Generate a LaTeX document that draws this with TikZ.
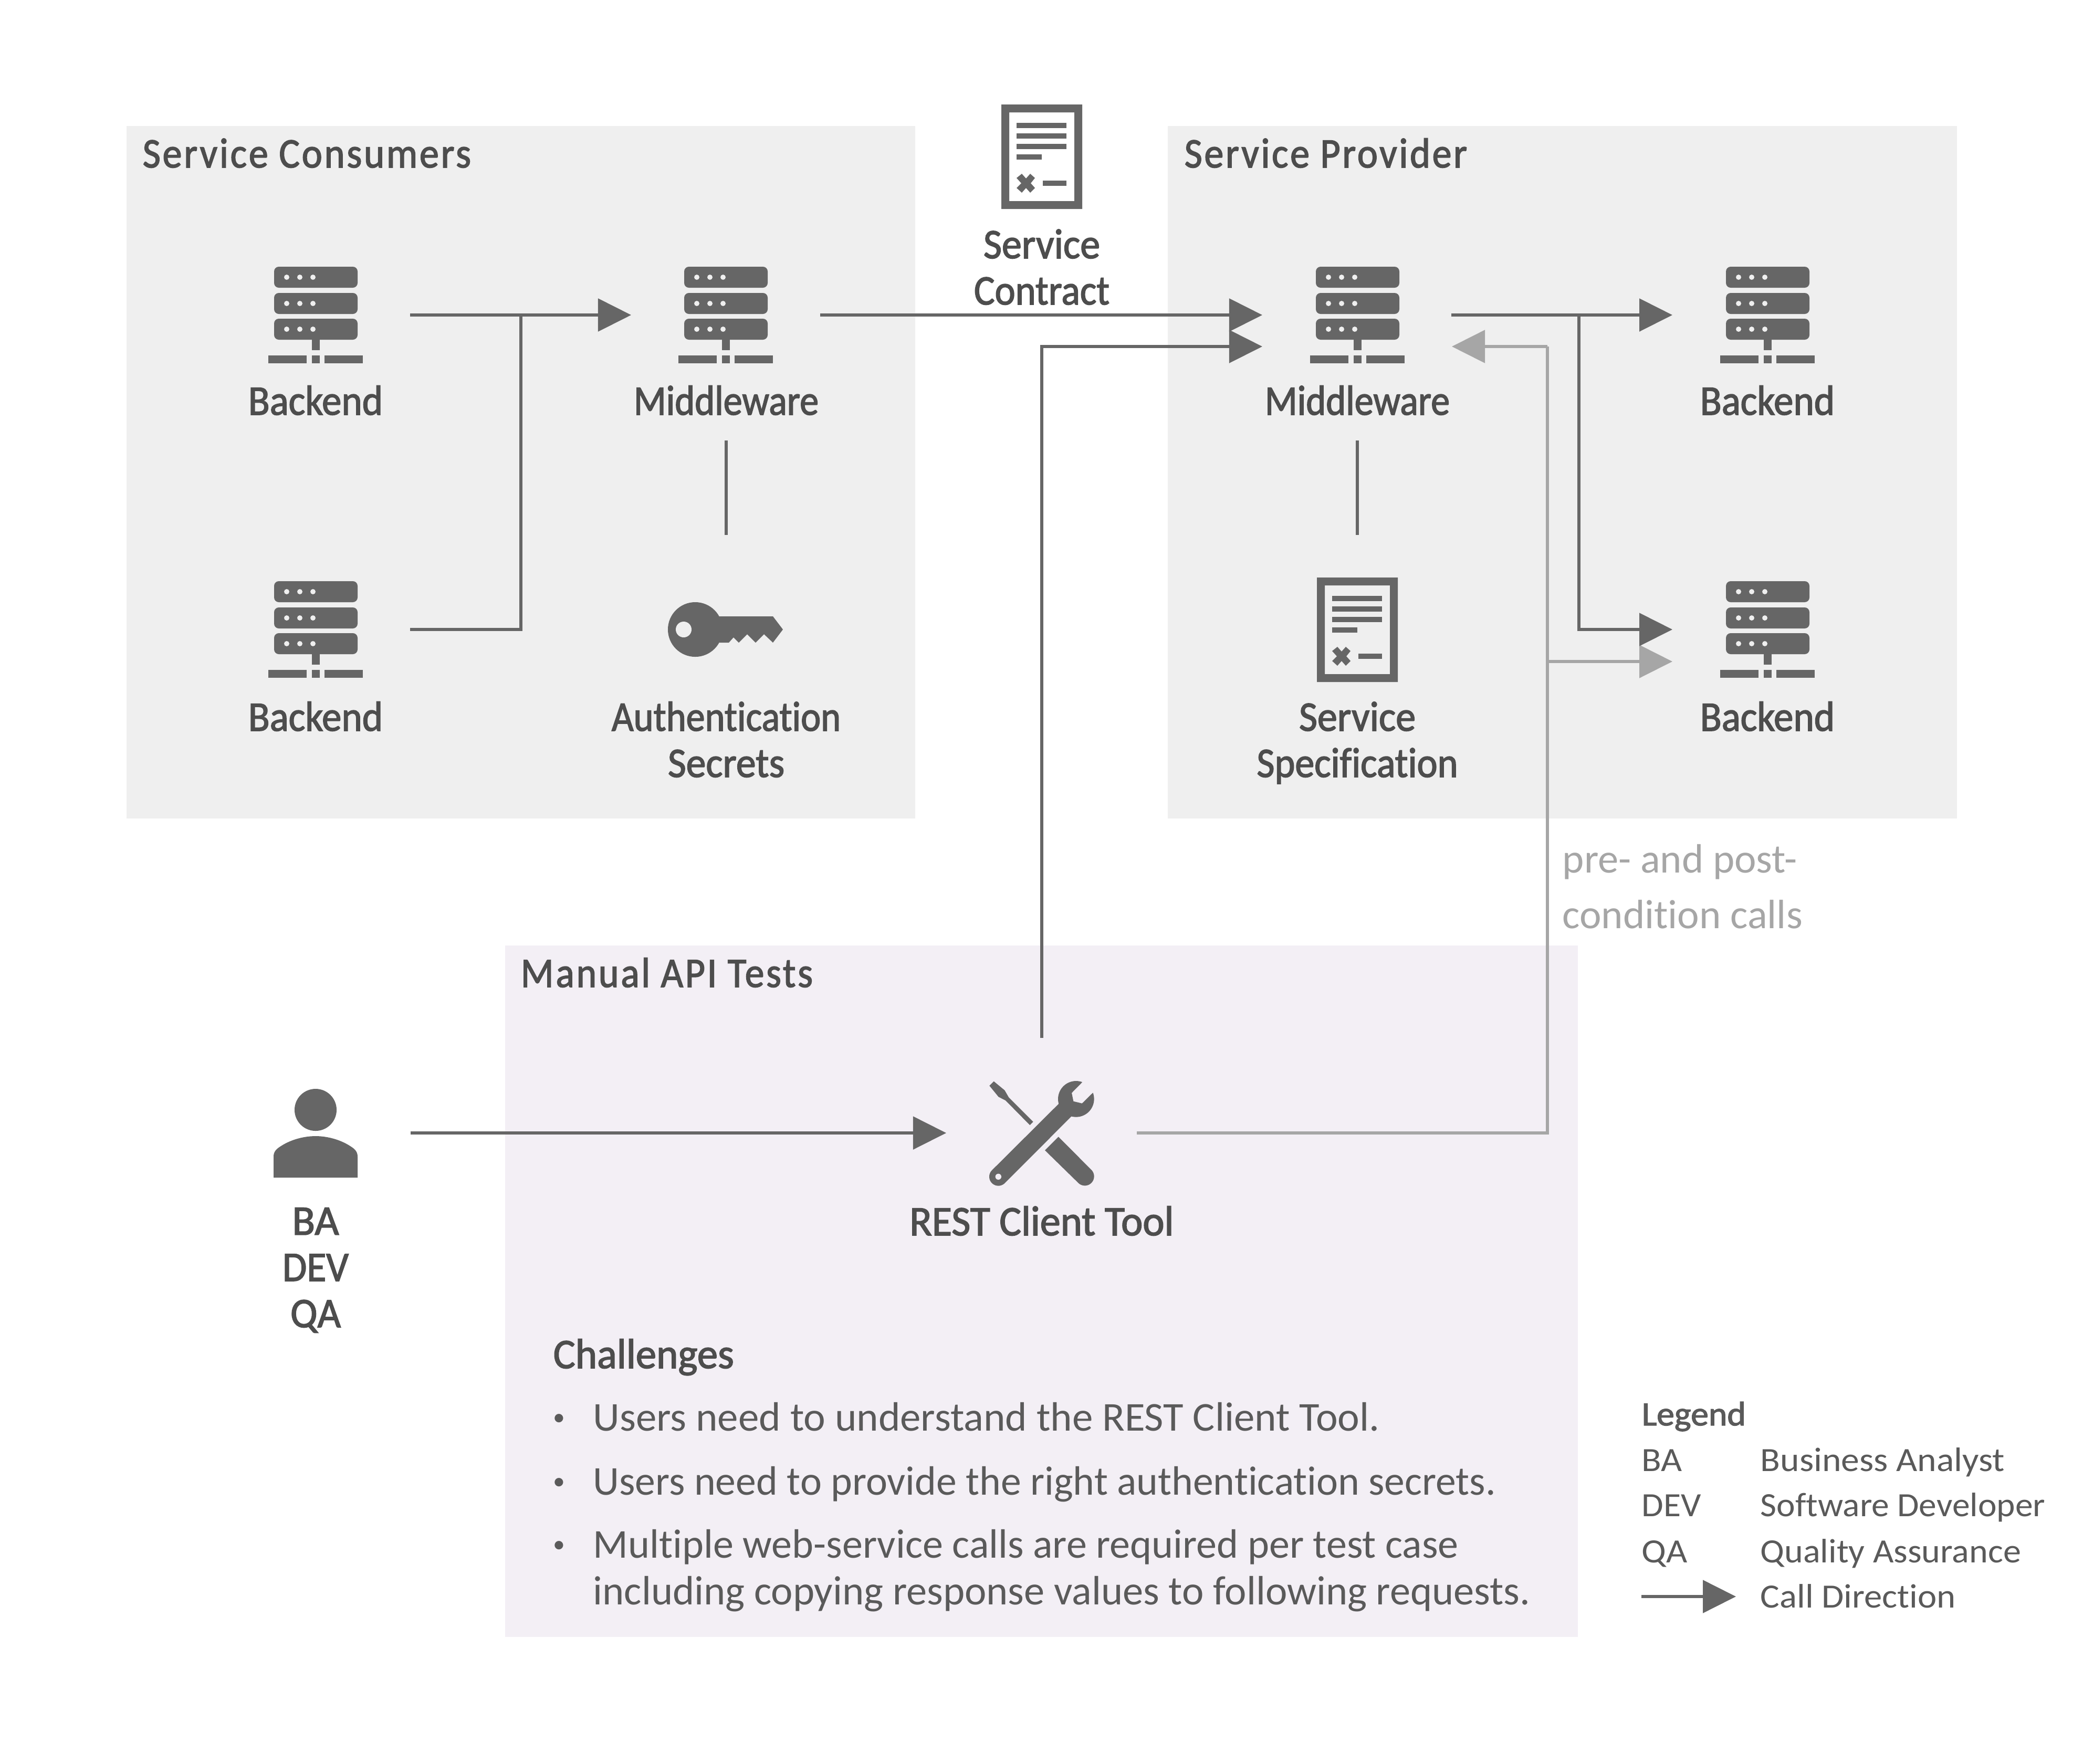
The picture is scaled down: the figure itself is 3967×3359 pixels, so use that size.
\documentclass[tikz,border=0pt]{standalone}
\usepackage{fontspec}
\usepackage{graphicx}
\usetikzlibrary{arrows.meta}
\setmainfont[Ligatures=CommonOff]{Carlito}
\newfontfamily\medf[FakeBold=2,Ligatures=CommonOff]{Carlito}
\definecolor{boxgray}{HTML}{EFEFEF}
\definecolor{boxlav}{HTML}{F3EFF5}
\definecolor{icon}{HTML}{666666}
\definecolor{txt}{HTML}{4D4D4D}
\definecolor{bodytxt}{HTML}{5A5A5A}
\definecolor{lightline}{HTML}{A6A6A6}
\newsavebox\fitbox
\newcommand\fitw[2]{\sbox\fitbox{#2}\pgfmathsetmacro\fitr{(#1*0.284528)/\the\wd\fitbox}\scalebox{\fitr}[1]{\usebox\fitbox}}
\newcommand\lblfont{\medf\fontsize{22.8}{25.04}\selectfont}
\newcommand\bodyfont{\fontsize{22.2}{25.3}\selectfont}
\newcommand\legfont{\fontsize{18.4}{20}\selectfont}
\newcommand\legbold{\medf\fontsize{18.4}{20}\selectfont}
\newcommand\bulfont{\fontsize{13}{15}\selectfont}
\newcommand\spc{\addfontfeature{LetterSpace=5}}
\tikzset{
  x=0.01cm,y=-0.01cm,
  lab/.style={font=\lblfont,text=txt,inner sep=0pt,anchor=base,align=center},
  head/.style={font=\lblfont,text=txt,inner sep=0pt,anchor=base west},
  bodytext/.style={font=\bodyfont,text=bodytxt,inner sep=0pt,anchor=base west,align=left},
  legtext/.style={font=\legfont,text=bodytxt,inner sep=0pt,anchor=base west},
  conn/.style={draw=icon,line width=0.055cm},
  connG/.style={draw=lightline,line width=0.055cm},
  tipd/.style={-{Triangle[length=6.3mm,width=6.2mm,fill=icon]}},
  tipg/.style={-{Triangle[length=6.3mm,width=6.2mm,fill=lightline]}},
  serverpic/.pic={
    \foreach \yy in {-92,-42,7}{
      \fill[icon,even odd rule,rounded corners=0.09cm] (-79,\yy) rectangle (80,\yy+40);
      \foreach \xx in {-55,-30,-5}{\fill[boxgray] (\xx,\yy+20) circle[radius=0.05cm];}
    }
    \fill[icon] (-7,47) rectangle (8,67);
    \fill[icon] (-90,77) rectangle (-17,92);
    \fill[icon] (-7,77) rectangle (8,92);
    \fill[icon] (17,77) rectangle (90,92);
  },
  docpic/.pic={
    \fill[icon,even odd rule] (-77,-99) rectangle (77,100) (-62,-84) rectangle (62,85);
    \fill[icon] (-48,-64) rectangle (47,-54);
    \fill[icon] (-48,-44) rectangle (47,-34);
    \fill[icon] (-48,-24) rectangle (47,-14);
    \fill[icon] (-48,-4) rectangle (0,6);
    \fill[icon] (2,46) rectangle (47,56);
    \fill[icon] (-48,41) -- (-38,33) -- (-30,42) -- (-22,33) -- (-13,41) -- (-21,51) -- (-13,60) -- (-22,69) -- (-30,60) -- (-38,69) -- (-48,60) -- (-39,51) -- cycle;
  }
}
\begin{document}
\begin{tikzpicture}
\useasboundingbox (0,0) rectangle (3967,3359);
\fill[white] (0,0) rectangle (3967,3359);
% panels
\fill[boxgray] (241,240) rectangle (1743,1559);
\fill[boxgray] (2224,240) rectangle (3727,1559);
\fill[boxlav] (962,1801) rectangle (3005,3118);
% headers
\node[head] (hcons) at (271,319) {\fitw{625}{\spc Service Consumers}};
\node[head] (hprov) at (2255,319) {\fitw{538}{\spc Service Provider}};
\node[head] (hman) at (991,1880) {\fitw{556}{\spc Manual API Tests}};
% icons
\pic (srvA) at (601,600) {serverpic};
\pic (srvB) at (601,1199) {serverpic};
\pic (srvC) at (1382,600) {serverpic};
\pic (srvD) at (2585,600) {serverpic};
\pic (srvE) at (3366,600) {serverpic};
\pic (srvF) at (3366,1199) {serverpic};
\pic (docA) at (1984,298) {docpic};
\pic (docB) at (2585,1199) {docpic};
% key
\fill[icon] (1370,1174) -- (1472,1174) -- (1491,1199) -- (1472,1224) -- (1455,1208) -- (1439,1224) -- (1423,1208) -- (1407,1224) -- (1397,1214) -- (1388,1224) -- (1370,1224) -- cycle;
\fill[icon] (1324,1199) circle[radius=0.52cm];
\fill[boxgray] (1302,1199) circle[radius=0.15cm];
% person
\fill[icon] (601,2114) circle[radius=0.40cm];
\fill[icon] (521,2243) -- (521,2203) .. controls (521,2193) and (527,2188) .. (535,2183) .. controls (555,2170) and (580,2164) .. (601,2164) .. controls (622,2164) and (647,2170) .. (667,2183) .. controls (675,2188) and (681,2193) .. (681,2203) -- (681,2243) -- cycle;
% tools
\fill[icon,even odd rule] (2060.7,2061.7) -- (2041,2081.7) -- (2044.3,2097.7) -- (2060.7,2101.7) -- (2081,2081.7)
  -- plot[domain=-20:105,samples=30,variable=\t] ({2049.3+34.3*cos(\t)},{2093.3+34.3*sin(\t)})
  -- plot[domain=45:225,samples=30,variable=\t] ({1901.3+17.3*cos(\t)},{2241.3+17.3*sin(\t)})
  -- plot[domain=164.5:290,samples=30,variable=\t] ({2049.3+34.3*cos(\t)},{2093.3+34.3*sin(\t)})
  -- cycle;
\fill[boxlav] (1901.3,2241.3) circle[radius=0.057cm];
\fill[icon] (1892.7,2059.7) -- (1913.3,2076.7) -- (1921,2090) -- (1967.7,2136.7) -- (1961.3,2143) -- (1915,2096) -- (1901.7,2089.3) -- (1884.3,2068) -- cycle;
\fill[icon] (2015.7,2165.3) -- plot[domain=-45:135,samples=30,variable=\t] ({2066+17.6*cos(\t)},{2240.7+17.6*sin(\t)}) -- (1990,2191) -- cycle;
% icon labels
\node[lab] (lA) at (601,790) {\fitw{256}{Backend}};
\node[lab] (lB) at (601,1392) {\fitw{256}{Backend}};
\node[lab] (lC) at (1383,790) {\fitw{352}{Middleware}};
\node[lab] (lD) at (2585,790) {\fitw{352}{Middleware}};
\node[lab] (lE) at (3366,790) {\fitw{256}{Backend}};
\node[lab] (lF) at (3366,1392) {\fitw{256}{Backend}};
\node[lab] (lKey) at (1383,1480) {\fitw{436}{Authentication}\\\fitw{222}{Secrets}};
\node[lab] (lSpec) at (2585,1480) {\fitw{222}{Service}\\\fitw{383}{Specification}};
\node[lab] (lCon) at (1984,580) {\fitw{222}{Service}\\\fitw{258}{Contract}};
\node[lab] (lTool) at (1984,2353) {\fitw{503}{REST Client Tool}};
\node[lab] (lUser) at (601,2528) {\fitw{89}{BA}\\\fitw{126}{DEV}\\\fitw{96}{QA}};
% grey note
\node[bodytext,text=lightline] (note) at (2975,1662) {\fitw{447}{pre- and post-}};
\node[bodytext,text=lightline] (note2) at (2975,1768) {\fitw{457}{condition calls}};
% challenges
\node[lab,anchor=base west] (chal) at (1053,2606) {\fitw{344}{Challenges}};
\node[bodytext,font=\bulfont] (b1) at (1053,2714) {•};
\node[bodytext,font=\bulfont] (b2) at (1053,2836) {•};
\node[bodytext,font=\bulfont] (b3) at (1053,2956) {•};
\node[bodytext] (t1) at (1129,2725) {\fitw{1497}{Users need to understand the REST Client Tool.}};
\node[bodytext] (t2) at (1129,2847) {\fitw{1718}{Users need to provide the right authentication secrets.}};
\node[bodytext] (t3) at (1129,3056) {\fitw{1647}{Multiple web-service calls are required per test case}\\\fitw{1784}{including copying response values to following requests.}};
% legend
\node[legtext,font=\legbold] (lg) at (3126,2715) {\fitw{198}{Legend}};
\node[legtext] (lg1) at (3126,2802) {\fitw{77}{BA}};
\node[legtext] (lg2) at (3126,2888) {\fitw{113}{DEV}};
\node[legtext] (lg3) at (3126,2976) {\fitw{87}{QA}};
\node[legtext] (lg1b) at (3352,2802) {\fitw{465}{Business Analyst}};
\node[legtext] (lg2b) at (3352,2888) {\fitw{542}{Software Developer}};
\node[legtext] (lg3b) at (3352,2976) {\fitw{496}{Quality Assurance}};
\node[legtext] (lg4b) at (3352,3062) {\fitw{372}{Call Direction}};
% connector ends
\coordinate (a1) at (781,600);
\coordinate (a2) at (781,1199);
\coordinate (ja) at (992,600);
\coordinate (a3) at (1202,600);
\coordinate (c1) at (1562,600);
\coordinate (c2) at (2404,600);
\coordinate (v1) at (1383,839);
\coordinate (v2) at (1383,1019);
\coordinate (v3) at (2585,839);
\coordinate (v4) at (2585,1019);
\coordinate (d1) at (2764,600);
\coordinate (d2) at (3185,600);
\coordinate (jd) at (3007,600);
\coordinate (d3) at (3185,1199);
\coordinate (e1) at (1984,1977);
\coordinate (e2) at (1984,660);
\coordinate (e3) at (2404,660);
\coordinate (p1) at (782,2158);
\coordinate (p2) at (1802,2158);
\coordinate (g1) at (2165,2158);
\coordinate (g2) at (2947,660);
\coordinate (g3) at (2765,660);
\coordinate (g4) at (2947,1260);
\coordinate (g5) at (3185,1260);
\coordinate (l1) at (3126,3041);
\coordinate (l2) at (3306,3041);
% connectors
\draw[connG] (g1) -| (g2);
\draw[connG,tipg] (g2) -- (g3);
\draw[connG,tipg] (g4) -- (g5);
\draw[conn,tipd] (a1) -- (a3);
\draw[conn] (a2) -| (ja);
\draw[conn,tipd] (c1) -- (c2);
\draw[conn] (v1) -- (v2);
\draw[conn] (v3) -- (v4);
\draw[conn,tipd] (d1) -- (d2);
\draw[conn,tipd] (jd) |- (d3);
\draw[conn,tipd] (e1) |- (e3);
\draw[conn,tipd] (p1) -- (p2);
\draw[conn,tipd] (l1) -- (l2);
\end{tikzpicture}
\end{document}
